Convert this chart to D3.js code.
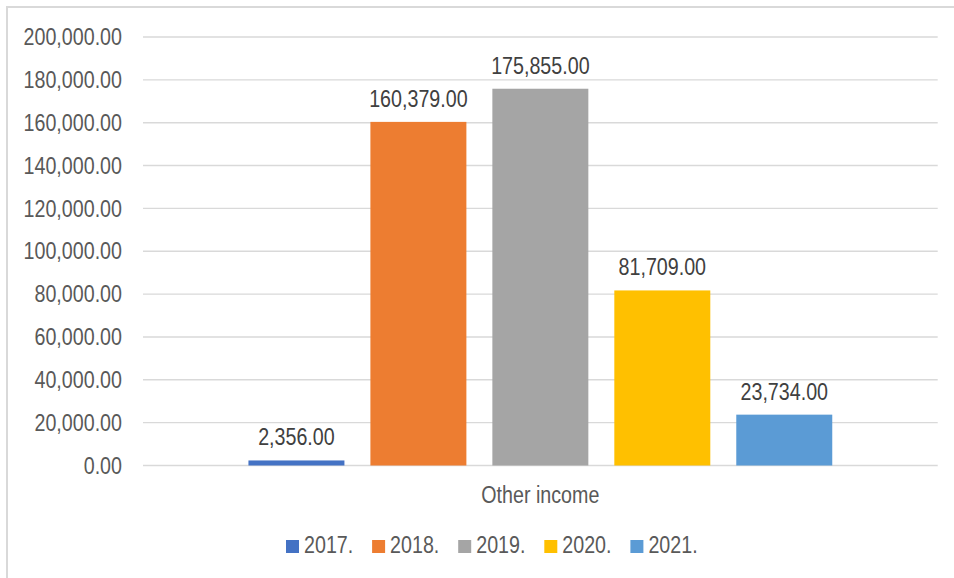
<!DOCTYPE html>
<html>
<head>
<meta charset="utf-8">
<script src="https://cdn.jsdelivr.net/npm/d3@7"></script>
<style>
  body { margin: 0; background: #fff; }
  svg text { font-family: "Liberation Sans", Arial, sans-serif; }
</style>
</head>
<body>
<div id="chart"></div>
<script>
var categories = ["Other income"];
var years = ["2017.", "2018.", "2019.", "2020.", "2021."];
var values = [2356, 160379, 175855, 81709, 23734];
var yTicks = [0, 20000, 40000, 60000, 80000, 100000, 120000, 140000, 160000, 180000, 200000];
var colors = ["#4472C4", "#ED7D31", "#A5A5A5", "#FFC000", "#5B9BD5"];

var width = 954, height = 578;
var plot = {left: 143, right: 937.7, top: 37, bottom: 465.5};
var squeeze = 0.82; // the original font is a narrow face

var svg = d3.select("#chart").append("svg")
  .attr("width", width)
  .attr("height", height);

/* chart frame, only the top and left edges are inside the picture */
svg.append("rect")
  .attr("x", 7).attr("y", 7)
  .attr("width", width + 20).attr("height", height + 20)
  .attr("fill", "none")
  .attr("stroke", "#d9d9d9")
  .attr("stroke-width", 2);

/* move x,y into a transform so the glyphs can be squeezed sideways */
function narrow(sel) {
  sel.each(function() {
    var t = d3.select(this);
    var tx = +t.attr("x") || 0, ty = +t.attr("y") || 0;
    t.attr("x", 0).attr("y", 0)
      .attr("transform", "translate(" + tx + "," + ty + ") scale(" + squeeze + ",1)");
  });
}

var y = d3.scaleLinear().domain([0, 200000]).range([plot.bottom, plot.top]);

var x0 = d3.scaleBand().domain(categories)
  .range([plot.left, plot.right])
  .paddingInner(0).paddingOuter(0.125);

var x1 = d3.scaleBand().domain(years)
  .range([0, x0.bandwidth()])
  .padding(0.213);

var fmt = d3.format(",.2f");

// gridlines
svg.append("g").selectAll("line")
  .data(yTicks)
  .enter().append("line")
    .attr("x1", plot.left).attr("x2", plot.right)
    .attr("y1", function(d) { return y(d); })
    .attr("y2", function(d) { return y(d); })
    .attr("stroke", "#d9d9d9")
    .attr("stroke-width", 1.4);

// y axis labels
var yAxis = d3.axisLeft(y).tickValues(yTicks).tickFormat(fmt).tickSize(0).tickPadding(21);
var gY = svg.append("g")
  .attr("transform", "translate(" + plot.left + ",0)")
  .call(yAxis);
gY.select(".domain").remove();
gY.selectAll("text")
  .attr("fill", "#595959")
  .style("font-size", "24px")
  .call(narrow);

// bars
var g = svg.append("g").attr("transform", "translate(" + x0(categories[0]) + ",0)");

g.selectAll("rect")
  .data(values)
  .enter().append("rect")
    .attr("x", function(d, i) { return x1(years[i]); })
    .attr("y", function(d) { return y(d); })
    .attr("width", x1.bandwidth())
    .attr("height", function(d) { return y(0) - y(d); })
    .attr("fill", function(d, i) { return colors[i]; });

g.selectAll("text.label")
  .data(values)
  .enter().append("text")
    .attr("class", "label")
    .attr("x", function(d, i) { return x1(years[i]) + x1.bandwidth() / 2; })
    .attr("y", function(d) { return y(d) - 15; })
    .attr("text-anchor", "middle")
    .attr("fill", "#404040")
    .style("font-size", "24px")
    .text(function(d) { return fmt(d); })
    .call(narrow);

// category label
svg.append("text")
  .attr("x", x0(categories[0]) + x0.bandwidth() / 2)
  .attr("y", 503)
  .attr("text-anchor", "middle")
  .attr("fill", "#595959")
  .style("font-size", "24px")
  .text(categories[0])
  .call(narrow);

// legend
var legend = svg.append("g").attr("transform", "translate(286,540)");
var item = legend.selectAll("g")
  .data(years)
  .enter().append("g")
    .attr("transform", function(d, i) { return "translate(" + (i * 86.1) + ",0)"; });

item.append("rect")
  .attr("width", 13).attr("height", 13)
  .attr("fill", function(d, i) { return colors[i]; });

item.append("text")
  .attr("x", 18)
  .attr("y", 13)
  .attr("fill", "#595959")
  .style("font-size", "24px")
  .text(function(d) { return d; })
  .call(narrow);
</script>
</body>
</html>
